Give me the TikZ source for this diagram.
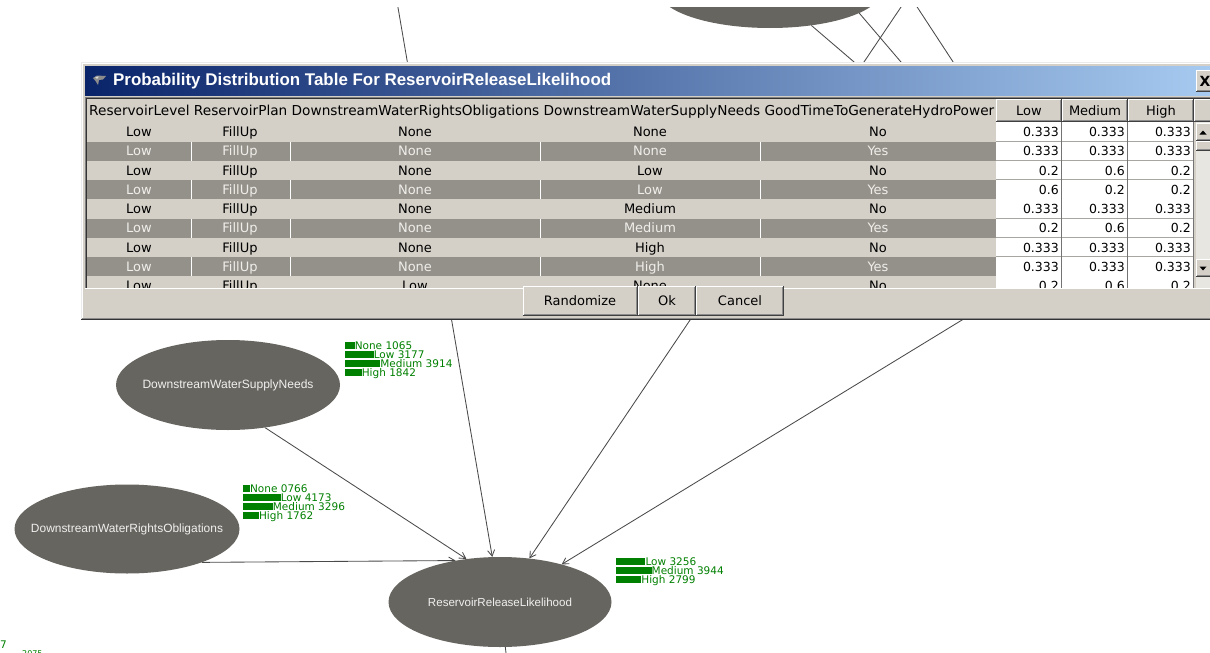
\documentclass[tikz,border=0pt]{standalone}
\usepackage{fontspec}
\setmainfont{DejaVu Sans}
\newfontfamily\arialish{Liberation Sans}
\usetikzlibrary{arrows.meta,shapes.geometric}
\pgfdeclarelayer{background}
\pgfdeclarelayer{foreground}
\pgfsetlayers{background,main,foreground}
\newcommand{\myfit}[2]{\resizebox{#1}{!}{#2}}
\definecolor{dlg}{HTML}{D4D0C8}
\definecolor{darkrow}{HTML}{94918A}
\definecolor{rowtxt}{HTML}{F0EEEA}
\definecolor{nodefill}{HTML}{67655F}
\definecolor{nodetxt}{HTML}{F0F0F0}
\definecolor{edgecol}{HTML}{4A4A4A}
\definecolor{bargreen}{HTML}{008000}
\definecolor{tbl}{HTML}{0A246A}
\definecolor{tbr}{HTML}{A6CAF0}
\definecolor{cellline}{HTML}{A8A6A0}
\definecolor{track}{HTML}{E8E6E1}
\newcommand{\raisedrect}[4]{%
  \fill[dlg] (#1,#2) rectangle (#3,#4);
  \draw[white] (#1+0.5,#4-0.5) -- (#1+0.5,#2+0.5) -- (#3-0.5,#2+0.5);
  \draw[black!75] (#1,#4-0.5) -- (#3-0.5,#4-0.5) -- (#3-0.5,#2);
  \draw[black!45] (#1+1,#4-1.5) -- (#3-1.5,#4-1.5) -- (#3-1.5,#2+1);
}
\begin{document}
\begin{tikzpicture}[x=1pt,y=-1pt,
  gnode/.style={ellipse, fill=nodefill, inner sep=0pt, text=nodetxt},
  conn/.style={draw=edgecol, line width=0.85pt},
  arrowed/.style={-{Straight Barb[length=6pt,width=7pt]}},
  bartxt/.style={text=bargreen, font=\fontsize{10.5}{10.5}\selectfont, inner sep=0pt, anchor=base west},
  celltxt/.style={font=\fontsize{13}{13}\selectfont, inner sep=0pt, anchor=base},
  valtxt/.style={font=\fontsize{12.5}{12.5}\selectfont, inner sep=0pt, anchor=base east},
]
\useasboundingbox (0,0) rectangle (1210,653);
\begin{pgfonlayer}{background}
\fill[white] (0,0) rectangle (1210,653);
\end{pgfonlayer}

% ---------------- graph nodes ----------------
\node[gnode, minimum width=224pt, minimum height=76pt] (topn) at (770,-10) {};
\node[gnode, minimum width=224pt, minimum height=90pt] (dwsn) at (228,385)
  {\makebox[0pt]{\myfit{171pt}{\arialish DownstreamWaterSupplyNeeds}}};
\node[gnode, minimum width=225pt, minimum height=89pt] (dwro) at (127,529)
  {\makebox[0pt]{\myfit{192pt}{\arialish DownstreamWaterRightsObligations}}};
\node[gnode, minimum width=223pt, minimum height=90pt] (rrl) at (500,602)
  {\makebox[0pt]{\myfit{144pt}{\arialish ReservoirReleaseLikelihood}}};

\coordinate (f0) at (395,-10);
\coordinate (c0) at (912.5,-10);
\coordinate (b0) at (839.5,-10);
\coordinate (d0) at (906,-10);
\coordinate (hA) at (1000,187);
\coordinate (hB) at (1000,178);
\coordinate (hD) at (1050,210);
\coordinate (e0) at (1193,179);
\coordinate (g0) at (508,670);

\begin{pgfonlayer}{background}
  \draw[conn] (topn) -- (hA);
  \draw[conn] (b0) -- (hB);
  \draw[conn] (d0) -- (hD);
  \draw[conn, arrowed] (f0) -- (rrl);
  \draw[conn, arrowed] (c0) -- (rrl);
  \draw[conn, arrowed] (e0) -- (rrl);
  \draw[conn, arrowed] (dwsn.-49) -- (rrl.128);
  \draw[conn, arrowed] (dwro.-24) -- (rrl.137);
  \draw[conn] (rrl) -- (g0);
\end{pgfonlayer}

% ---------------- bar charts ----------------
\foreach \lab/\len [count=\k] in {None 1065/9.6, Low 3177/28.6, Medium 3914/35.2, High 1842/16.6} {
  \pgfmathsetmacro{\yy}{342+(\k-1)*9}
  \fill[bargreen] (345,\yy) rectangle ++(\len,7);
  \node[bartxt] (sn-l\k) at (345+\len,\yy+7.5) {\lab};
}
\foreach \lab/\len [count=\k] in {None 0766/6.9, Low 4173/37.6, Medium 3296/29.7, High 1762/15.9} {
  \pgfmathsetmacro{\yy}{485+(\k-1)*9}
  \fill[bargreen] (243,\yy) rectangle ++(\len,7);
  \node[bartxt] (ro-l\k) at (243+\len,\yy+7.5) {\lab};
}
\foreach \lab/\len [count=\k] in {Low 3256/29.3, Medium 3944/35.5, High 2799/25.2} {
  \pgfmathsetmacro{\yy}{558+(\k-1)*9}
  \fill[bargreen] (616,\yy) rectangle ++(\len,7);
  \node[bartxt] (rr-l\k) at (616+\len,\yy+7.5) {\lab};
}
\node[bartxt, anchor=base east] (cut1) at (7,648) {7};
\node[bartxt, font=\fontsize{8}{8}\selectfont] (cut2) at (22,656) {2075};

% ---------------- dialog ----------------
\begin{pgfonlayer}{foreground}
\fill[white] (0,0) rectangle (1210,7);
% frame
\fill[dlg] (81,62) rectangle (1210,320);
\draw[white!92!black] (81.5,320) -- (81.5,62.5) -- (1210,62.5);
\draw[white] (82.5,319) -- (82.5,63.5) -- (1210,63.5);
\draw[black!80] (81,319.5) -- (1210,319.5);
\draw[black!45] (82,318.5) -- (1210,318.5);
% title bar
\shade[left color=tbl, right color=tbr] (85,66.5) rectangle (1210,95);
\fill[black!45] (93,78) -- (97,75.5) -- (106,76) -- (103,79.5) -- (99,80) -- (98,85) -- (95.5,81) -- cycle;
\fill[white!85!black] (95,77) -- (99,76.5) -- (97,79) -- cycle;
\node[anchor=west, inner sep=0pt, text=white] (title) at (113,81)
  {\myfit{498pt}{\arialish\bfseries Probability Distribution Table For ReservoirReleaseLikelihood}};
\raisedrect{1196}{70}{1214}{92}
\node[inner sep=0pt, font=\fontsize{14}{14}\selectfont\bfseries] (closex) at (1205,81) {X};
% table panel
\fill[dlg] (85,97) rectangle (1210,288);
\draw[black!50] (85.5,288) -- (85.5,97.5) -- (1210,97.5);
\draw[black!80] (86.5,288) -- (86.5,98.5) -- (1210,98.5);
% header
\node[anchor=base west, inner sep=0pt] (hdr) at (89,115)
  {\myfit{905pt}{ReservoirLevel ReservoirPlan DownstreamWaterRightsObligations DownstreamWaterSupplyNeeds GoodTimeToGenerateHydroPower}};
\raisedrect{996}{99}{1062}{121.5}
\raisedrect{1062}{99}{1128}{121.5}
\raisedrect{1128}{99}{1194}{121.5}
\raisedrect{1194}{99}{1214}{121.5}
\node[celltxt] (hlow) at (1029,115.5) {Low};
\node[celltxt] (hmed) at (1095,115.5) {Medium};
\node[celltxt] (hhigh) at (1161,115.5) {High};
% rows
\begin{scope}
\clip (87,122) rectangle (1196,288);
\foreach \lv/\pl/\ro/\sn/\gt/\va/\vb/\vc [count=\i] in {
 Low/FillUp/None/None/No/0.333/0.333/0.333,
 Low/FillUp/None/None/Yes/0.333/0.333/0.333,
 Low/FillUp/None/Low/No/0.2/0.6/0.2,
 Low/FillUp/None/Low/Yes/0.6/0.2/0.2,
 Low/FillUp/None/Medium/No/0.333/0.333/0.333,
 Low/FillUp/None/Medium/Yes/0.2/0.6/0.2,
 Low/FillUp/None/High/No/0.333/0.333/0.333,
 Low/FillUp/None/High/Yes/0.333/0.333/0.333,
 Low/FillUp/Low/None/No/0.2/0.6/0.2} {
  \pgfmathsetmacro{\yt}{122.4+(\i-1)*19.25}
  \pgfmathsetmacro{\ybl}{\yt+14.3}
  \pgfmathsetmacro{\yb}{\yt+19.25}
  \ifodd\i
    \fill[dlg] (87,\yt) rectangle (996,\yb);
    \def\tc{black}
  \else
    \fill[darkrow] (87,\yt) rectangle (996,\yb);
    \foreach \sx in {191,290,540,760} {\draw[white, line width=1pt] (\sx,\yt) -- (\sx,\yb);}
    \def\tc{rowtxt}
  \fi
  \fill[white] (996,\yt) rectangle (1194,\yb);
  \draw[cellline] (996,\yb-0.5) -- (1194,\yb-0.5);
  \foreach \sx in {1061.5,1127.5,1193.5} {\draw[black!55] (\sx,\yt) -- (\sx,\yb);}
  \node[celltxt, text=\tc] (r\i-a) at (139,\ybl) {\lv};
  \node[celltxt, text=\tc] (r\i-b) at (240,\ybl) {\pl};
  \node[celltxt, text=\tc] (r\i-c) at (415,\ybl) {\ro};
  \node[celltxt, text=\tc] (r\i-d) at (650,\ybl) {\sn};
  \node[celltxt, text=\tc] (r\i-e) at (878,\ybl) {\gt};
  \node[valtxt] (r\i-v1) at (1059,\ybl) {\va};
  \node[valtxt] (r\i-v2) at (1125,\ybl) {\vb};
  \node[valtxt] (r\i-v3) at (1191,\ybl) {\vc};
}
\end{scope}
% scrollbar
\fill[track] (1196,122) rectangle (1210,288);
\raisedrect{1196}{123}{1212}{141}
\fill[black] (1199.5,134.5) -- (1206.5,134.5) -- (1203,130.5) -- cycle;
\raisedrect{1196}{141}{1212}{151}
\raisedrect{1196}{259}{1212}{277}
\fill[black] (1199.5,266.5) -- (1206.5,266.5) -- (1203,270.5) -- cycle;
\draw[white, line width=1pt] (85,288.5) -- (1210,288.5);
% buttons
\raisedrect{523}{286}{638}{316}
\raisedrect{638}{286}{696}{316}
\raisedrect{696}{286}{784}{316}
\node[celltxt] (brand) at (580,305) {Randomize};
\node[celltxt] (bok) at (667,305) {Ok};
\node[celltxt] (bcancel) at (740,305) {Cancel};
\end{pgfonlayer}
\end{tikzpicture}
\end{document}
